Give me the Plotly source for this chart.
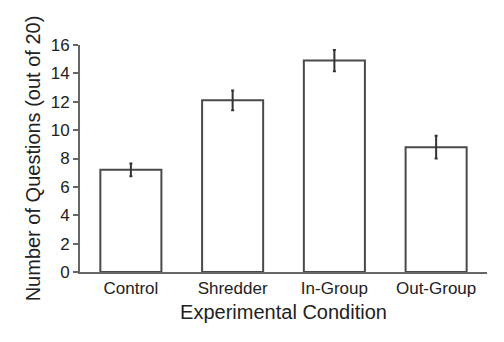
import plotly.graph_objects as go

categories = ["Control", "Shredder", "In-Group", "Out-Group"]
means = [7.2, 12.1, 14.9, 8.8]
errors = [0.45, 0.7, 0.75, 0.8]
y_ticks = [0, 2, 4, 6, 8, 10, 12, 14, 16]

fig = go.Figure(go.Bar(
    x=categories, y=means, width=0.6,
    marker=dict(color="white", line=dict(color="#4a4a4a", width=2)),
    error_y=dict(type="data", array=errors, color="#333333", thickness=2, width=1.5),
))

font = "Liberation Sans, Arial, sans-serif"
fig.update_layout(
    width=504, height=342,
    margin=dict(l=80, r=17, t=45, b=70),
    paper_bgcolor="white", plot_bgcolor="white",
    showlegend=False,
    font=dict(family=font, color="#222222", size=17),
    xaxis=dict(
        range=[-0.5, 3.5], showline=True, linecolor="#666666", linewidth=2,
        ticks="", tickfont=dict(size=17),
        title=dict(text="Experimental Condition", font=dict(size=20), standoff=8),
    ),
    yaxis=dict(
        range=[0, 16], tickvals=y_ticks, showline=True, linecolor="#666666", linewidth=2,
        ticks="outside", ticklen=5, tickcolor="#666666", tickwidth=1.5,
        showgrid=False, zeroline=False, tickfont=dict(size=17),
        title=dict(text="Number of Questions (out of 20)", font=dict(size=20), standoff=5),
    ),
)
fig.write_html("out.html")
